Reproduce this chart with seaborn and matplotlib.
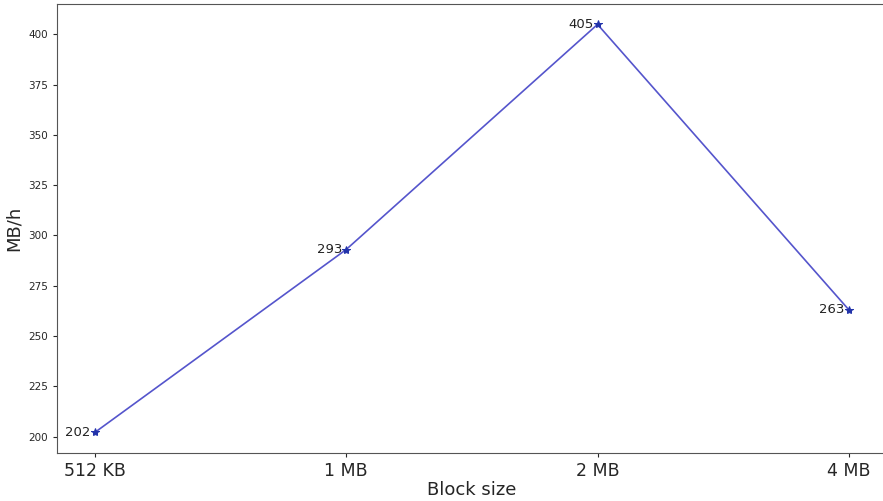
import pandas as pd
import seaborn as sns
import matplotlib.pyplot as plt

# valores
block_sizes = ['512 KB', '1 MB', '2 MB', '4 MB']
throughput = [202, 293, 405, 263]

df = pd.DataFrame({'Block size': block_sizes, 'MB/h': throughput})

sns.set_style("ticks")
plt.rcParams['font.family'] = ['DejaVu Sans']

fig = plt.figure(figsize=(8.83, 5.01), dpi=100)
ax = fig.add_axes([0.0646, 0.096, 0.9395, 0.896])

sns.lineplot(
    data=df, x='Block size', y='MB/h', ax=ax,
    color='#5555cc', linewidth=1.2,
    marker='*', markersize=6,
    markerfacecolor='#2233aa', markeredgecolor='#2233aa',
    errorbar=None, sort=False
)

# rótulos à esquerda de cada ponto
for i, v in enumerate(throughput):
    ax.annotate(str(v), (i, v), xytext=(-3, 0), textcoords='offset points',
                ha='right', va='center', fontsize=9.5, color='#222222')

ax.set_yticks(range(200, 401, 25))
ax.tick_params(axis='y', labelsize=7.5, length=3)
ax.tick_params(axis='x', labelsize=12.5, length=3)
ax.set_xlabel('Block size', fontsize=13, labelpad=1)
ax.set_ylabel('MB/h', fontsize=13, labelpad=4)

for s in ax.spines.values():
    s.set_color('#555555')

fig.savefig('out.png', dpi=100)
